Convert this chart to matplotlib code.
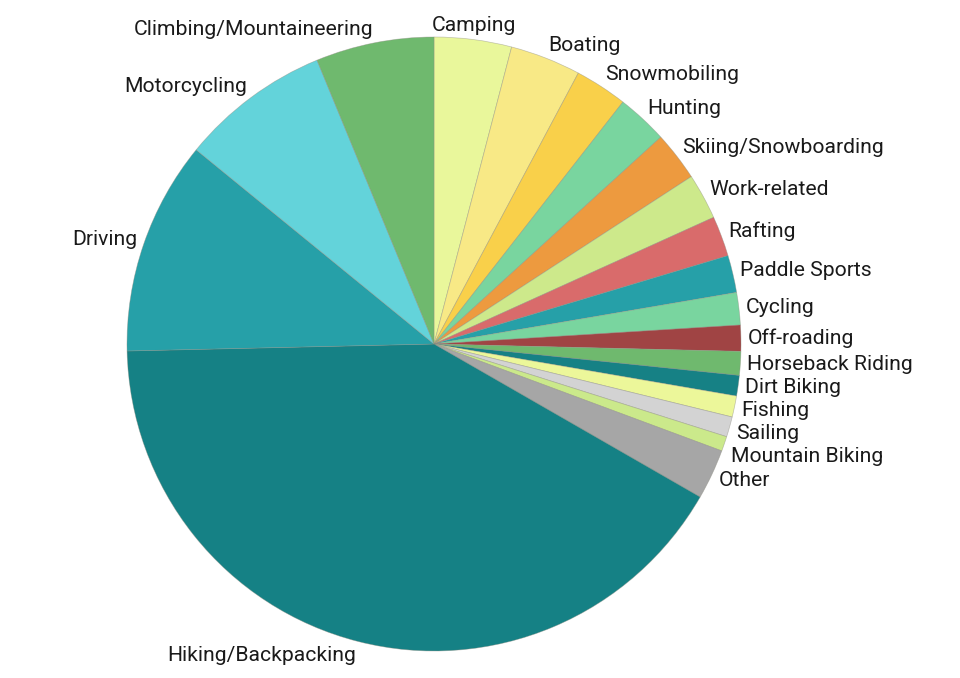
import matplotlib
matplotlib.use("Agg")
import matplotlib.pyplot as plt
import numpy as np

labels = ["Camping", "Boating", "Snowmobiling", "Hunting", "Skiing/Snowboarding",
          "Work-related", "Rafting", "Paddle Sports", "Cycling", "Off-roading",
          "Horseback Riding", "Dirt Biking", "Fishing", "Sailing", "Mountain Biking",
          "Other", "Hiking/Backpacking", "Driving", "Motorcycling",
          "Climbing/Mountaineering"]
values = [4.07, 3.72, 2.76, 2.68, 2.59, 2.41, 2.12, 1.96, 1.70, 1.37,
          1.25, 1.08, 1.11, 1.06, 0.78, 2.64, 41.33, 11.26, 7.88, 6.22]
colors = ["#e9f79b", "#f8e986", "#f9d04a", "#79d59f", "#ed9a3f",
          "#cde98b", "#d96b6b", "#26a0a8", "#79d59f", "#a04444",
          "#6fb96e", "#168185", "#ecf79a", "#d3d3d3", "#cbe98b",
          "#a6a6a6", "#158185", "#26a0a8", "#63d3da", "#6fb96e"]

plt.rcParams['font.family'] = ['Roboto', 'DejaVu Sans']

W, H = 960, 678
cx, cy, R = 434, 344, 307
fig = plt.figure(figsize=(W / 100, H / 100), dpi=100)
ax = fig.add_axes([0, 0, 1, 1])

wedges, _ = ax.pie(values, colors=colors, startangle=90, counterclock=False,
                   radius=R, wedgeprops=dict(linewidth=0.5, edgecolor=(0.55, 0.55, 0.5, 0.5)))
ax.set_xlim(-cx, W - cx)
ax.set_ylim(-(H - cy), cy)
ax.set_aspect('equal')
ax.axis('off')

# label placement with simple vertical collision avoidance (right-lower side)
RX, RY, GAP = R + 7, R + 14, 23
placed = []
for w, lab in zip(wedges, labels):
    ang = np.deg2rad((w.theta1 + w.theta2) / 2)
    x, y = np.cos(ang), np.sin(ang)
    placed.append([RX * x, RY * y, x, lab])

# push down labels on the right side below the horizontal so they don't overlap
prev = None
for p in placed:
    if p[2] > 0 and p[1] < 0:
        if prev is not None and prev - p[1] < GAP:
            p[1] = prev - GAP
        prev = p[1]

for px, py, x, lab in placed:
    if abs(x) < 0.15:
        ha = 'center'
    else:
        ha = 'left' if x > 0 else 'right'
    ax.text(px, py, lab, ha=ha, va='center', fontsize=15.2, color='#1a1a1a')

fig.savefig("out.png", dpi=100)
